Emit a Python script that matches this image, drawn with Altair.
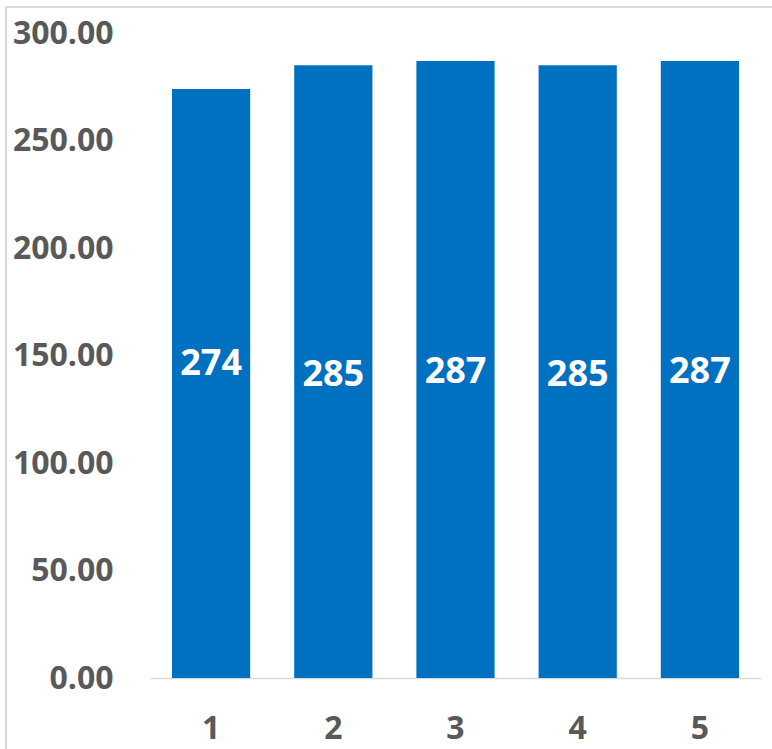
import altair as alt
import pandas as pd

# Series: five categories with their totals
categories = ["1", "2", "3", "4", "5"]
values = [274, 285, 287, 285, 287]
y_ticks = [0, 50, 100, 150, 200, 250, 300]

df = pd.DataFrame({"cat": categories, "value": values})

FONT = "Open Sans"
GREY = "#595959"
BLUE = "#0070C0"
FRAME = "#D9D9D9"

x_enc = alt.X(
    "cat:N",
    sort=categories,
    scale=alt.Scale(paddingInner=0.36, paddingOuter=0.18),
    axis=alt.Axis(
        title=None, labelAngle=0, ticks=False, domainColor=FRAME,
        domainWidth=1.5, labelPadding=35, labelFontSize=32,
        labelFont=FONT, labelFontWeight="bold", labelColor=GREY,
    ),
)

bars = alt.Chart(df).mark_bar(color=BLUE).encode(
    x=x_enc,
    y=alt.Y(
        "value:Q",
        scale=alt.Scale(domain=[0, 300], nice=False),
        axis=alt.Axis(
            title=None, values=y_ticks, format=".2f", domain=False,
            ticks=False, grid=False, labelPadding=37, labelFontSize=32,
            labelFont=FONT, labelFontWeight="bold", labelColor=GREY,
        ),
    ),
)

label_base = alt.Chart(df).transform_calculate(mid="datum.value / 2")

label_style = dict(color="white", font=FONT, fontWeight="bold",
                   fontSize=36, baseline="middle", align="center")

labels_rest = label_base.transform_filter("datum.cat != '1'").mark_text(
    **label_style, dy=3
).encode(x=alt.X("cat:N", sort=categories), y="mid:Q", text="value:Q")

labels_first = label_base.transform_filter("datum.cat == '1'").mark_text(
    **label_style, dy=-19
).encode(x=alt.X("cat:N", sort=categories), y="mid:Q", text="value:Q")

# Outer chart frame (top and left edges)
frame_top = alt.Chart(df).mark_rule(color=FRAME, strokeWidth=2).encode(
    x=alt.value(-144), x2=alt.value(640), y=alt.value(-26)
)
frame_left = alt.Chart(df).mark_rule(color=FRAME, strokeWidth=2).encode(
    x=alt.value(-144), y=alt.value(-26), y2=alt.value(740)
)

chart = alt.layer(bars, labels_rest, labels_first, frame_top, frame_left).properties(
    width=611,
    height=645,
    autosize=alt.AutoSizeParams(type="none"),
    padding={"left": 150, "top": 33, "right": 11, "bottom": 71},
    background="white",
).configure_view(stroke=None)

chart.save("out.html", embed_options={"renderer": "svg", "actions": False})
